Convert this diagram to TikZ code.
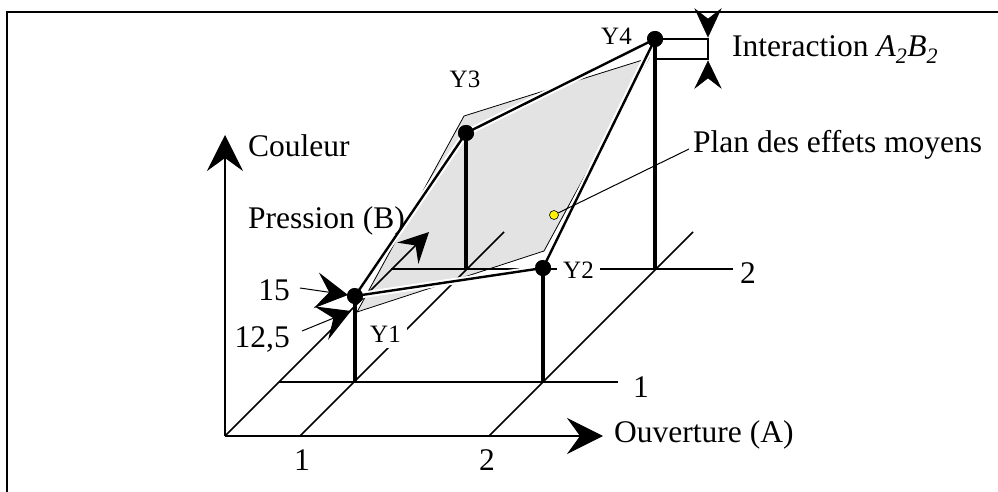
\documentclass[tikz,border=0pt]{standalone}
\usepackage{fontspec}
\setmainfont{Liberation Serif}
\usetikzlibrary{arrows.meta}
\begin{document}
\begin{tikzpicture}[x=1pt,y=-1pt,
  gridline/.style={line width=1.5pt},
  ystem/.style={line width=4pt},
  yedge/.style={line width=2.4pt, preaction={draw=white,line width=6.5pt}},
  ydot/.style={circle,fill=black,inner sep=0pt,minimum size=16pt},
  big/.style={font=\fontsize{31.5}{36}\selectfont, inner sep=0pt},
  ylab/.style={font=\fontsize{25}{28}\selectfont, inner sep=0pt},
  bighead/.style={-{Stealth[length=36pt,width=36pt,inset=13pt]}},
  midhead/.style={-{Stealth[length=32pt,width=36pt,inset=13pt]}},
  smallhead/.style={-{Stealth[length=30pt,width=30pt,inset=11pt]}},
  headshape/.style={fill=black, draw=black, line width=0.5pt},
]
\useasboundingbox (0,0) rectangle (998,492);
% frame
\draw[line width=2pt] (7,492) -- (7,12) -- (998,12);

% plane of mean effects
\coordinate (P1) at (357,312);
\coordinate (P2) at (544,251);
\coordinate (P4) at (649,58);
\coordinate (P3) at (464,116);
\filldraw[fill=gray!22, draw=black, line width=0.8pt] (P1) -- (P2) -- (P4) -- (P3) -- cycle;

% grid
\coordinate (O) at (225,436);
\coordinate (Cup) at (225,135);
\coordinate (Aend) at (603,436);
\coordinate (A1) at (300,436);
\coordinate (A2) at (489,436);
\coordinate (Bend) at (429,232);
\coordinate (A1end) at (504,232);
\coordinate (A2end) at (693,232);
\coordinate (B1s) at (279,382);
\coordinate (B1e) at (618,382);
\coordinate (B2s) at (391,269);
\coordinate (B2e) at (733,269);
\draw[gridline] (B1s) -- (B1e);
\draw[gridline] (B2s) -- (B2e);
\draw[gridline] (A1) -- (A1end);
\draw[gridline] (A2) -- (A2end);
\draw[gridline,smallhead] (O) -- (Bend);
\draw[gridline,bighead] (O) -- (Cup);
\draw[gridline,bighead] (O) -- (Aend);

% points
\coordinate (b1) at (355,382);
\coordinate (b2) at (543,382);
\coordinate (b3) at (466,269);
\coordinate (b4) at (655,269);
\node[ydot] (Y1) at (355,296) {};
\node[ydot] (Y2) at (543,268) {};
\node[ydot] (Y3) at (466,133) {};
\node[ydot] (Y4) at (655,39) {};
\draw[yedge] (Y1.center) -- (Y2.center);
\draw[yedge] (Y1.center) -- (Y3.center);
\draw[yedge] (Y3.center) -- (Y4.center);
\draw[yedge] (Y2.center) -- (Y4.center);
\draw[ystem] (b1) -- (Y1.center);
\draw[ystem] (b2) -- (Y2.center);
\draw[ystem] (b3) -- (Y3.center);
\draw[ystem] (b4) -- (Y4.center);
\node[ydot] at (Y1) {};
\node[ydot] at (Y2) {};
\node[ydot] at (Y3) {};
\node[ydot] at (Y4) {};

% point labels
\node[ylab, fill=white, inner sep=6pt, anchor=base west] (L1) at (364,342) {Y1};
\node[ylab, fill=white, inner xsep=6pt, inner ysep=2pt, anchor=base west] (L2) at (557,278) {Y2};
\node[ylab, anchor=base] (L3) at (465,88) {Y3};
\node[ylab, anchor=base west] (L4) at (601,45) {Y4};

% interaction bracket
\coordinate (I1) at (708,39);
\coordinate (I2) at (708,59);
\coordinate (Y4low) at (655,59);
\draw[line width=1.5pt] (Y4.center) -- (I1) -- (I2) -- (Y4low);
\filldraw[headshape] (708,37) -- (721,9) -- (708,19) -- (695,9) -- cycle;
\filldraw[headshape] (708,61) -- (721,88) -- (708,78) -- (695,88) -- cycle;
\node[big, anchor=base west] (inter) at (732,57) {Interaction \textit{A\textsubscript{2}B\textsubscript{2}}};

% 15 and 12,5
\node[big, anchor=base east] (n15) at (290,300) {15};
\node[big, anchor=base east] (n125) at (290,347) {12,5};
\coordinate (a15s) at (300,288);
\coordinate (a15t) at (348,295);
\coordinate (a125s) at (302,331);
\coordinate (a125t) at (351,311);
\draw[line width=1pt,midhead] (a15s) -- (a15t);
\draw[line width=1pt,midhead] (a125s) -- (a125t);

% axis labels
\node[big, anchor=base west] (couleur) at (248,157) {Couleur};
\node[big, anchor=base west] (pression) at (248,228) {Pression (B)};
\node[big, anchor=base west] (ouv) at (614,442) {Ouverture (A)};
\node[big, anchor=base] (x1) at (302,470) {1};
\node[big, anchor=base] (x2) at (487,470) {2};
\node[big, anchor=base] (z1) at (641,397) {1};
\node[big, anchor=base] (z2) at (748,283) {2};

% plane label
\node[circle, fill=yellow, draw=black, line width=0.6pt, inner sep=0pt, minimum size=9pt] (yd) at (554,215) {};
\coordinate (pl) at (689,149);
\draw[line width=1pt] (yd) -- (pl);
\node[big, anchor=base west] (plan) at (693,153) {Plan des effets moyens};
\end{tikzpicture}
\end{document}
